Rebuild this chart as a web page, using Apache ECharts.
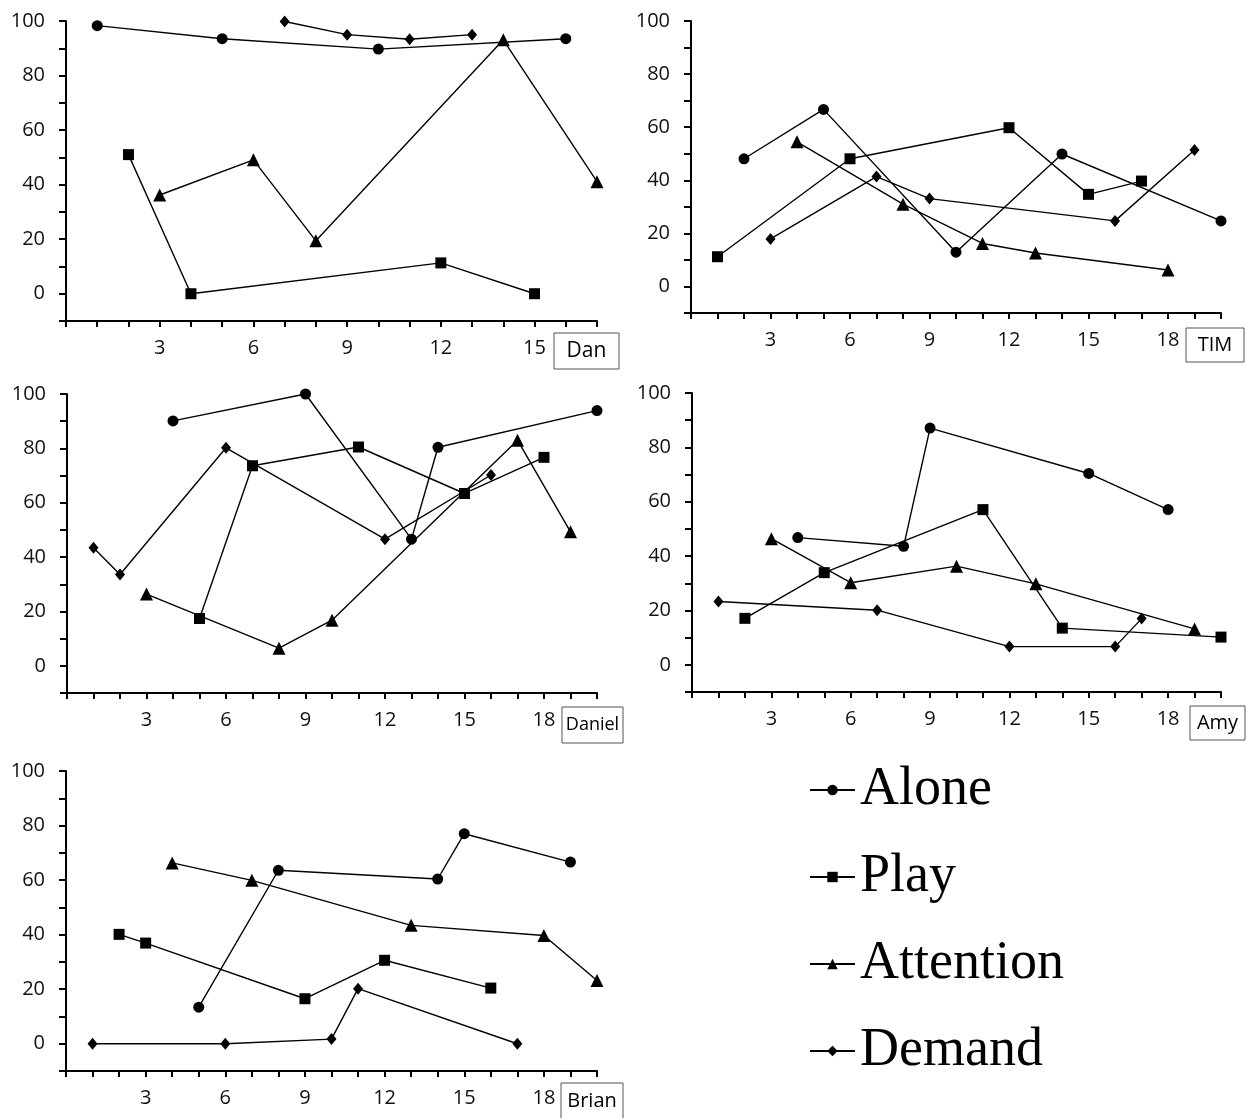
<!DOCTYPE html>
<html><head><meta charset="utf-8">
<script src="https://cdn.jsdelivr.net/npm/echarts@6/dist/echarts.min.js"></script>
<style>html,body{margin:0;padding:0;background:#fff;}#chart{width:1246px;height:1118px;}</style>
</head><body><div id="chart"></div>
<script>
// ---- data ----
const conditions = ['Alone', 'Play', 'Attention', 'Demand'];
const participants = ['Dan', 'TIM', 'Daniel', 'Amy', 'Brian'];
const sessionMax = [17, 20, 20, 20, 20];
const yTickLabels = [0, 20, 40, 60, 80, 100];
const xTickLabels = [3, 6, 9, 12, 15, 18];

const danAlone = [[1, 98.3], [5, 93.5], [10, 89.7], [16, 93.5]];
const danPlay = [[2, 51], [4, 0], [12, 11.3], [15, 0]];
const danAttention = [[3, 36.2], [6, 49.1], [8, 19.4], [14, 93.1], [17, 41.1]];
const danDemand = [[7, 99.8], [9, 95], [11, 93.3], [13, 95]];

const timAlone = [[2, 48.1], [5, 66.7], [10, 12.9], [14, 49.9], [20, 24.7]];
const timPlay = [[1, 11.2], [6, 48.1], [12, 59.8], [15, 34.7], [17, 39.7]];
const timAttention = [[4, 54.5], [8, 31], [11, 16.2], [13, 12.6], [18, 6.2]];
const timDemand = [[3, 17.9], [7, 41.4], [9, 33.1], [16, 24.7], [19, 51.4]];

const danielAlone = [[4, 90.1], [9, 100], [13, 46.6], [14, 80.4], [20, 93.9]];
const danielPlay = [[5, 17.4], [7, 73.6], [11, 80.5], [15, 63.4], [18, 76.7]];
const danielAttention = [[3, 26.4], [8, 6.5], [10, 16.8], [17, 83], [19, 49.3]];
const danielDemand = [[1, 43.4], [2, 33.6], [6, 80.2], [12, 46.6], [16, 70.2]];

const amyAlone = [[4, 46.8], [8, 43.6], [9, 87.1], [15, 70.4], [18, 57.1]];
const amyPlay = [[2, 17.1], [5, 33.9], [11, 57.1], [14, 13.5], [20, 10.2]];
const amyAttention = [[3, 46.4], [6, 30.2], [10, 36.3], [13, 29.8], [19, 13.2]];
const amyDemand = [[1, 23.3], [7, 20.1], [12, 6.7], [16, 6.7], [17, 17]];

const brianAlone = [[5, 13.4], [8, 63.6], [14, 60.4], [15, 77], [19, 66.6]];
const brianPlay = [[2, 40.1], [3, 36.9], [9, 16.5], [12, 30.6], [16, 20.4]];
const brianAttention = [[4, 66.3], [7, 59.9], [13, 43.4], [18, 39.7], [20, 23.2]];
const brianDemand = [[1, 0], [6, 0], [10, 1.7], [11, 20.2], [17, 0]];

const panelData = [
  [danAlone, danPlay, danAttention, danDemand],
  [timAlone, timPlay, timAttention, timDemand],
  [danielAlone, danielPlay, danielAttention, danielDemand],
  [amyAlone, amyPlay, amyAttention, amyDemand],
  [brianAlone, brianPlay, brianAttention, brianDemand]
];

// ---- layout / style ----
const grids = [
  { left: 66, top: 21, width: 531, height: 300 },
  { left: 691, top: 21, width: 530, height: 292 },
  { left: 67, top: 394, width: 530, height: 299 },
  { left: 692, top: 393, width: 529, height: 299 },
  { left: 66, top: 771, width: 531, height: 300 }
];
const nameBoxes = [
  { x: 554, y: 333, w: 65, h: 36, fs: 21 },
  { x: 1186, y: 328, w: 58, h: 34, fs: 20 },
  { x: 562, y: 707, w: 61, h: 36, fs: 18 },
  { x: 1190, y: 706, w: 55, h: 34, fs: 20 },
  { x: 561, y: 1083, w: 62, h: 36, fs: 20 }
];
const symbols = ['circle', 'rect', 'triangle', 'diamond'];
const symbolSizes = [11, 11, 13, [10, 12]];
const labelFont = 'Open Sans';
const ink = '#000';

const xAxes = [], yAxes = [], series = [], graphics = [];
grids.forEach((g, i) => {
  xAxes.push({
    type: 'value', gridIndex: i, min: 0, max: sessionMax[i], interval: 1,
    axisLine: { onZero: false, lineStyle: { color: ink, width: 2 } },
    axisTick: { show: true, length: 6, lineStyle: { color: ink, width: 2 } },
    splitLine: { show: false },
    axisLabel: {
      margin: 17, color: '#111', fontFamily: labelFont, fontSize: 20,
      formatter: v => xTickLabels.indexOf(v) >= 0 ? String(v) : ''
    }
  });
  yAxes.push({
    type: 'value', gridIndex: i, min: -10, max: 100, interval: 10,
    axisLine: { show: true, onZero: false, lineStyle: { color: ink, width: 2 } },
    axisTick: { show: true, length: 7, lineStyle: { color: ink, width: 2 } },
    splitLine: { show: false },
    axisLabel: {
      margin: 21, color: '#111', fontFamily: labelFont, fontSize: 20,
      formatter: v => yTickLabels.indexOf(v) >= 0 ? String(v) : ''
    }
  });
  conditions.forEach((c, k) => {
    series.push({
      type: 'line', name: c, xAxisIndex: i, yAxisIndex: i,
      data: panelData[i][k], symbol: symbols[k], symbolSize: symbolSizes[k],
      showAllSymbol: true, clip: false, animation: false,
      lineStyle: { color: ink, width: 1.4 },
      itemStyle: { color: ink, borderWidth: 0 },
      emphasis: { disabled: true }
    });
  });
  const b = nameBoxes[i];
  graphics.push({
    type: 'rect', shape: { x: b.x, y: b.y, width: b.w, height: b.h },
    style: { fill: '#fff', stroke: '#555', lineWidth: 1 }
  });
  graphics.push({
    type: 'text', x: b.x + b.w / 2, y: b.y + b.h / 2,
    style: { text: participants[i], fill: '#000', font: b.fs + 'px "' + labelFont + '"',
      textAlign: 'center', textVerticalAlign: 'middle' }
  });
});

const chart = echarts.init(document.getElementById('chart'), null, { renderer: 'canvas' });
chart.setOption({
  backgroundColor: '#fff',
  animation: false,
  grid: grids.map(g => Object.assign({ containLabel: false }, g)),
  xAxis: xAxes,
  yAxis: yAxes,
  series: series,
  legend: {
    data: conditions, orient: 'vertical', left: 804, top: 755,
    itemWidth: 45, itemHeight: 13, itemGap: 27,
    selectedMode: false,
    textStyle: { fontFamily: 'Liberation Serif', fontSize: 54, color: '#000', lineHeight: 60 }
  },
  graphic: graphics
});
</script></body></html>
